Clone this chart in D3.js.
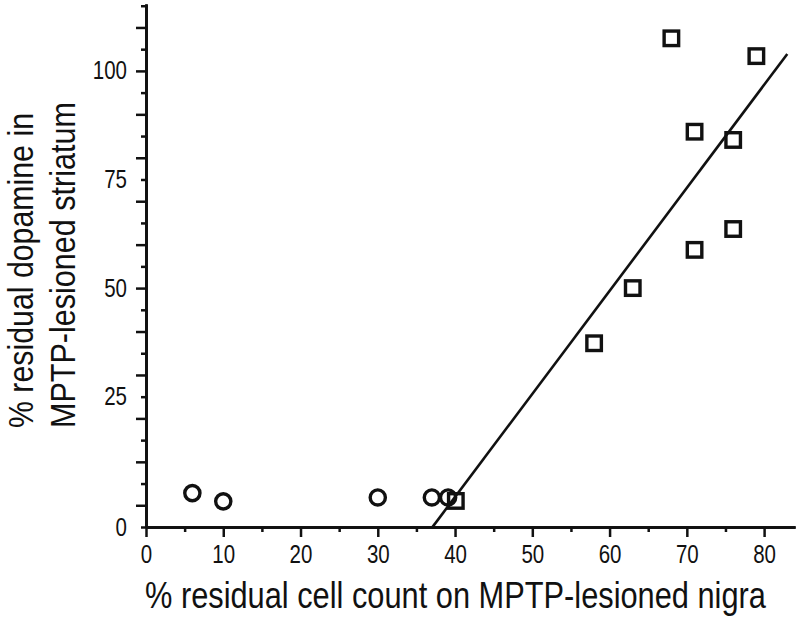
<!DOCTYPE html>
<html>
<head>
<meta charset="utf-8">
<script src="https://cdn.jsdelivr.net/npm/d3@7"></script>
<style>
  html, body { margin: 0; padding: 0; background: #fff; }
  svg { display: block; }
</style>
</head>
<body>
<svg id="chart" width="800" height="622"></svg>
<script>
// ---- data ----
const circleX = [6, 10, 30, 37, 39.1];
const circleY = [2.8, 0.9, 1.8, 1.8, 1.8];
const squareX = [40.1, 58, 63, 68, 71, 71, 76, 76, 79];
const squareY = [1.0, 37.3, 50, 107.5, 86, 58.8, 84.1, 63.6, 103.4];
const fitLineX = [37, 83];
const fitLineY = [-5.2, 103.9];
const xTickValues = [0, 10, 20, 30, 40, 50, 60, 70, 80];
const yTickValues = [-5, 25, 50, 75, 100];
const yTickLabels = ["0", "25", "50", "75", "100"];
const xTitle = "% residual cell count on MPTP-lesioned nigra";
const yTitleLines = ["% residual dopamine in", "MPTP-lesioned striatum"];

// ---- drawing ----
const svg = d3.select("#chart");
const ink = "#111";
const font = '"Liberation Sans", Arial, sans-serif';
const narrow = 0.82;

const x = d3.scaleLinear().domain([0, 84]).range([146, 795]);
const y = d3.scaleLinear().domain([-5, 115.4]).range([527, 4]);

// y axis
const yMajor = d3.range(0, 115, 10);
const yMinor = d3.range(-5, 116, 10);
const gy = svg.append("g").attr("transform", `translate(${x(0)},0)`);
gy.append("g").call(d3.axisLeft(y).tickValues(yMajor).tickSize(10).tickSizeOuter(0).tickFormat(""));
gy.append("g").call(d3.axisLeft(y).tickValues(yMinor).tickSize(5).tickSizeOuter(0).tickFormat(""));
const gyl = gy.append("g").call(d3.axisLeft(y).tickValues(yTickValues).tickSize(0).tickPadding(19)
  .tickFormat((d, i) => yTickLabels[i]));
gyl.selectAll(".tick text").attr("x", 0).attr("transform", `translate(-19,0) scale(${narrow},1)`);

// x axis
const xMajor = d3.range(0, 81, 10);
const xMinor = d3.range(5, 81, 10);
const gx = svg.append("g").attr("transform", `translate(0,${y(-5)})`);
gx.append("g").call(d3.axisBottom(x).tickValues(xMajor).tickSize(10).tickSizeOuter(0).tickFormat(""));
gx.append("g").call(d3.axisBottom(x).tickValues(xMinor).tickSize(5).tickSizeOuter(0).tickFormat(""));
const gxl = gx.append("g").call(d3.axisBottom(x).tickValues(xTickValues).tickSize(0).tickPadding(18)
  .tickFormat(d3.format("d")));
gxl.selectAll(".tick text").attr("transform", `scale(${narrow},1)`);

svg.selectAll(".domain").attr("stroke", ink).attr("stroke-width", 2.5);
svg.selectAll(".tick line").attr("stroke", ink).attr("stroke-width", 2.5);
svg.selectAll(".tick text").attr("fill", ink).style("font-size", "25px").style("font-family", font);

// fit line
svg.append("line")
  .attr("x1", x(fitLineX[0])).attr("y1", y(fitLineY[0]))
  .attr("x2", x(fitLineX[1])).attr("y2", y(fitLineY[1]))
  .attr("stroke", ink).attr("stroke-width", 2.6);

// circles
svg.append("g").selectAll("circle")
  .data(circleX.map((v, i) => [v, circleY[i]]))
  .join("circle")
  .attr("cx", d => x(d[0])).attr("cy", d => y(d[1]))
  .attr("r", 7.6)
  .attr("fill", "none").attr("stroke", ink).attr("stroke-width", 3.4);

// squares
const s = 14.5;
svg.append("g").selectAll("rect")
  .data(squareX.map((v, i) => [v, squareY[i]]))
  .join("rect")
  .attr("x", d => x(d[0]) - s / 2).attr("y", d => y(d[1]) - s / 2)
  .attr("width", s).attr("height", s)
  .attr("fill", "none").attr("stroke", ink).attr("stroke-width", 3.4);

// titles
svg.append("text")
  .attr("transform", `translate(145,608) scale(0.855,1)`)
  .style("font-family", font).style("font-size", "36px").attr("fill", ink)
  .text(xTitle);

const yLineX = [33, 75];
const yLineScale = [0.842, 0.849];
yTitleLines.forEach((t, i) => {
  svg.append("text")
    .attr("transform", `translate(${yLineX[i]},428) rotate(-90) scale(${yLineScale[i]},1)`)
    .style("font-family", font).style("font-size", "36px").attr("fill", ink)
    .text(t);
});
</script>
</body>
</html>
